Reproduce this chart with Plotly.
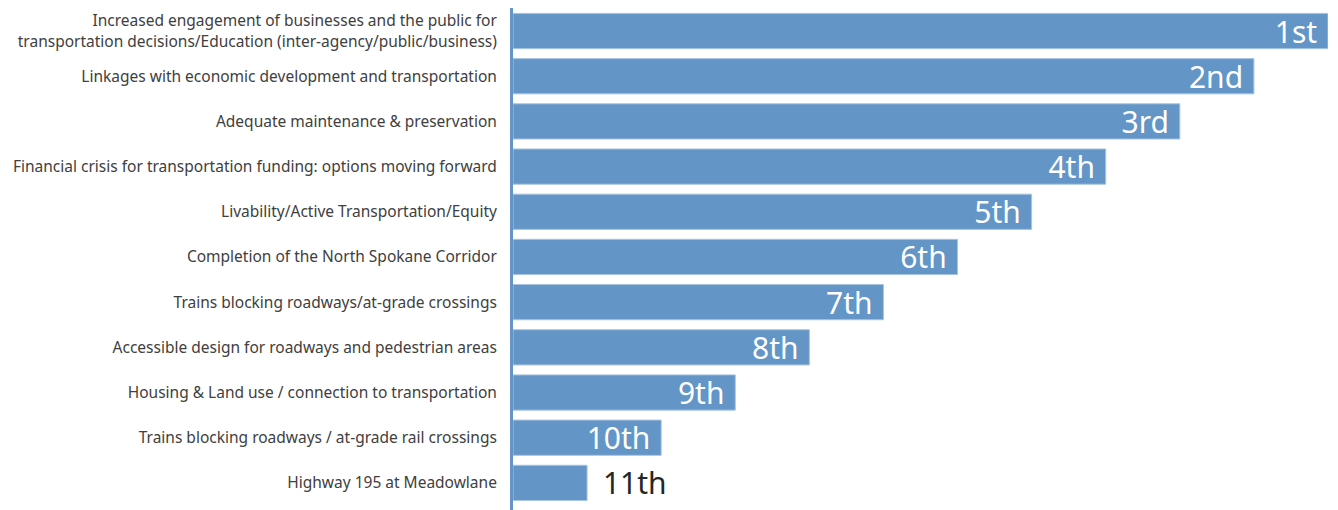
import plotly.graph_objects as go

categories = [
    "Increased engagement of businesses and the public for<br>transportation decisions/Education (inter-agency/public/business)",
    "Linkages with economic development and transportation",
    "Adequate maintenance & preservation",
    "Financial crisis for transportation funding: options moving forward",
    "Livability/Active Transportation/Equity",
    "Completion of the North Spokane Corridor",
    "Trains blocking roadways/at-grade crossings",
    "Accessible design for roadways and pedestrian areas",
    "Housing & Land use / connection to transportation",
    "Trains blocking roadways / at-grade rail crossings",
    "Highway 195 at Meadowlane",
]
scores = [11, 10, 9, 8, 7, 6, 5, 4, 3, 2, 1]
rank_labels = ["1st", "2nd", "3rd", "4th", "5th", "6th", "7th", "8th", "9th", "10th", "11th"]

positions = ["inside"] * 10 + ["outside"]

fig = go.Figure(go.Bar(
    y=categories,
    x=scores,
    orientation="h",
    text=[t + " " for t in rank_labels[:10]] + [" \u2009" + rank_labels[10]],
    textposition=positions,
    insidetextanchor="end",
    constraintext="none",
    cliponaxis=False,
    insidetextfont=dict(color="white", size=30, family="Noto Sans"),
    outsidetextfont=dict(color="#262626", size=30, family="Noto Sans"),
    marker=dict(color="#6395C6", line=dict(color="#A9C4E0", width=1)),
    width=0.78,
))

fig.update_layout(
    width=1330, height=502,
    margin=dict(l=505, r=10, t=0, b=0),
    plot_bgcolor="white", paper_bgcolor="white",
    showlegend=False,
    font=dict(family="Noto Sans", size=15.5, color="#404040"),
)
fig.update_xaxes(range=[0, 11], visible=False, showgrid=False, zeroline=False, automargin=False)
fig.update_yaxes(
    range=[10.6, -0.51], automargin=False,
    showline=True, linecolor="#6395C6", linewidth=3,
    ticks="outside", ticklen=10, tickcolor="rgba(0,0,0,0)",
    showgrid=False,
)

fig.write_html("out.html")
